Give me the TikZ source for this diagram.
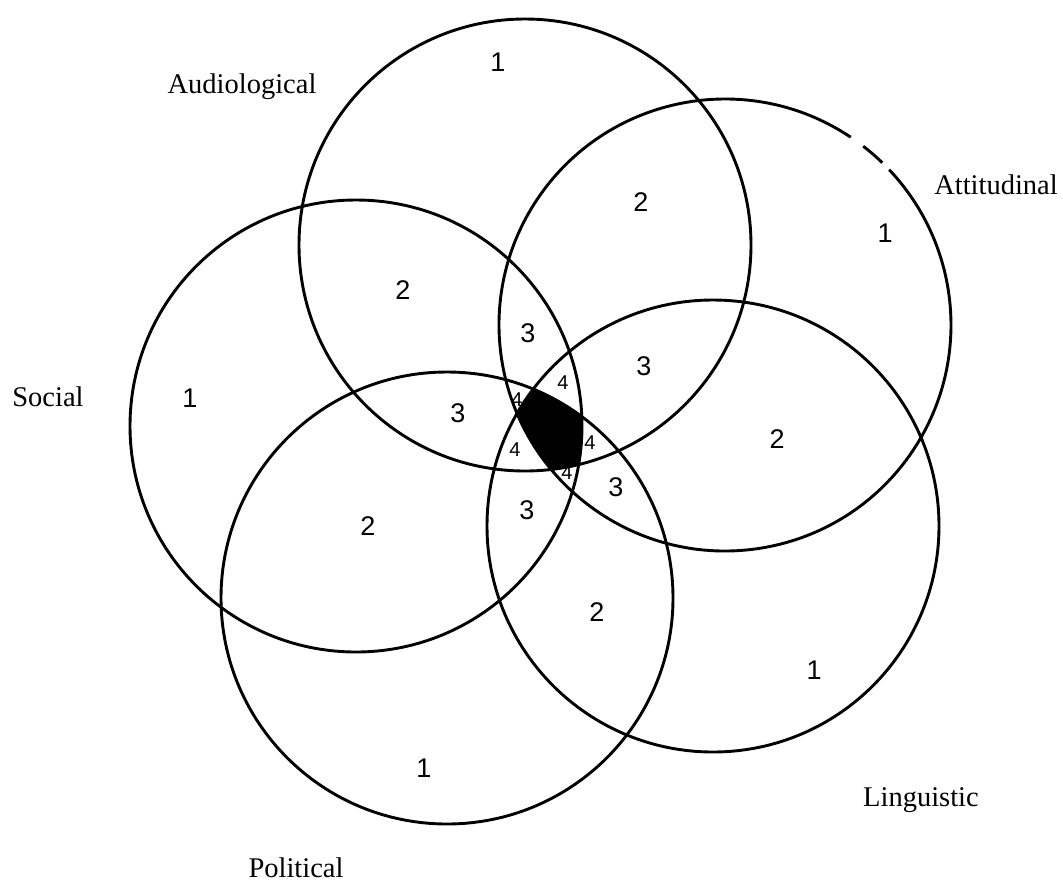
\documentclass[tikz,border=0pt]{standalone}
\usepackage{fontspec}
\setmainfont{Liberation Serif}
\newfontfamily\handfont{Liberation Sans}
\begin{document}
\begin{tikzpicture}[x=1pt,y=-1pt,
  ring/.style={line width=2.9pt},
  lbl/.style={font=\fontsize{28.5}{30}\selectfont, inner sep=0pt},
  num/.style={font=\handfont\fontsize{27}{29}\selectfont, inner sep=0pt},
  smallnum/.style={font=\handfont\fontsize{20}{21}\selectfont, inner sep=0pt}]
\useasboundingbox (0,0) rectangle (1063,895);
\def\R{226pt}
\coordinate (cA) at (525,245);
\coordinate (cT) at (725,325);
\coordinate (cL) at (713,526);
\coordinate (cP) at (447,598);
\coordinate (cS) at (356,426);
% common core of all five circles
\begin{scope}
  \clip (cA) circle[radius=\R];
  \clip (cT) circle[radius=\R];
  \clip (cL) circle[radius=\R];
  \clip (cP) circle[radius=\R];
  \fill[black] (cS) circle[radius=\R];
\end{scope}
% circles
\draw[ring] (cA) circle[radius=\R];
\draw[ring] (cS) circle[radius=\R];
\draw[ring] (cP) circle[radius=\R];
\draw[ring] (cL) circle[radius=\R];
\draw[ring] (cT) ++(56.2:\R) arc[start angle=56.2, end angle=403.4, radius=\R];
\draw[ring] (cT) ++(45.9:\R) arc[start angle=45.9, end angle=52.3, radius=\R];
% labels
\node[lbl] (audio) at (242,87) {Audiological};
\node[lbl] (atti) at (996,185) {Attitudinal};
\node[lbl] (social) at (48,397) {Social};
\node[lbl] (poli) at (296,868) {Political};
\node[lbl] (ling) at (921,800) {Linguistic};
% region counts
\node[num] (a1) at (498,62) {1};
\node[num] (t1) at (885,233) {1};
\node[num] (l1) at (814,670) {1};
\node[num] (p1) at (424,768) {1};
\node[num] (s1) at (190,398) {1};
\node[num] (as2) at (403,290) {2};
\node[num] (at2) at (641,202) {2};
\node[num] (tl2) at (777,439) {2};
\node[num] (lp2) at (597,612) {2};
\node[num] (sp2) at (368,526) {2};
\node[num] (ast3) at (528,333) {3};
\node[num] (atl3) at (644,366) {3};
\node[num] (tlp3) at (616,487) {3};
\node[num] (lps3) at (527,510) {3};
\node[num] (spa3) at (458,413) {3};
\node[smallnum] (f1) at (517,400) {4};
\node[smallnum] (f2) at (563,383) {4};
\node[smallnum] (f3) at (590,443) {4};
\node[smallnum] (f4) at (567,473) {4};
\node[smallnum] (f5) at (515,450) {4};
\end{tikzpicture}
\end{document}
